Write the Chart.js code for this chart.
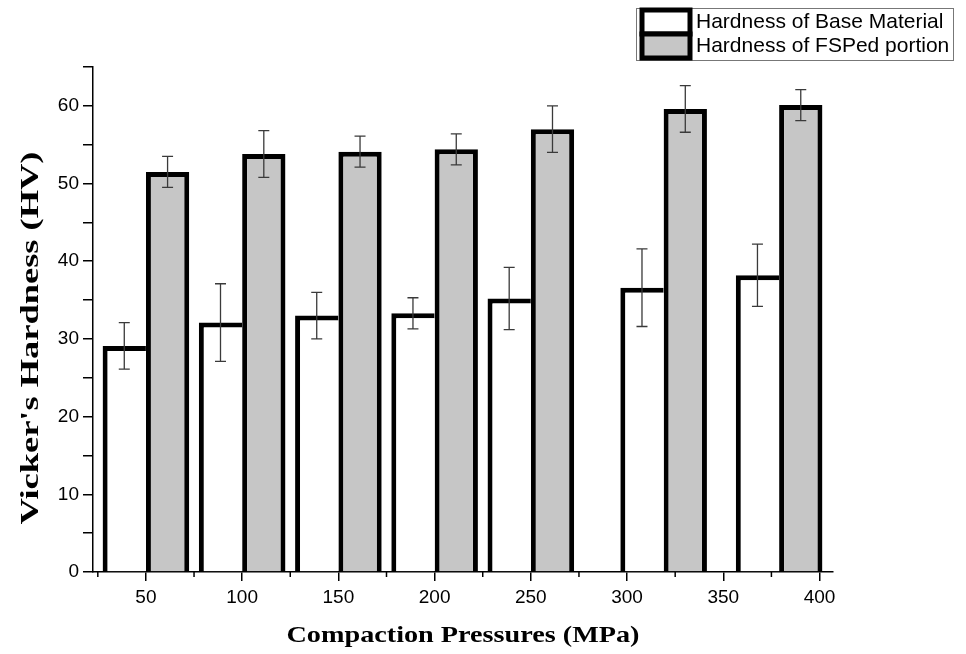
<!DOCTYPE html>
<html>
<head>
<meta charset="utf-8">
<script src="https://cdn.jsdelivr.net/npm/chart.js@4.4.1/dist/chart.umd.min.js"></script>
<style>
  html, body { margin: 0; padding: 0; background: #fff; }
</style>
</head>
<body>
<canvas id="chartCanvas" width="966" height="654"></canvas>
<script>
// data
const pressures = [50, 100, 150, 200, 250, 319, 379];
const baseHardness = [29.1, 32.1, 33.0, 33.3, 35.2, 36.6, 38.2];
const baseError = [3, 5, 3, 2, 4, 5, 4];
const fspHardness = [51.5, 53.8, 54.1, 54.4, 57.0, 59.6, 60.1];
const fspError = [2, 3, 2, 2, 3, 3, 2];
const xTicks = [50, 100, 150, 200, 250, 300, 350, 400];
const xMinorTicks = [25, 75, 125, 175, 225, 275, 325, 375];
const yTicks = [0, 5, 10, 15, 20, 25, 30, 35, 40, 45, 50, 55, 60, 65];
const seriesLabels = ["Hardness of Base Material", "Hardness of FSPed portion"];

const tickFont = { family: "'Liberation Sans', Arial, sans-serif", size: 19 };

// error bars drawn from the y scale
const errorBars = {
  id: "errorBars",
  afterDatasetsDraw(chart) {
    const ctx = chart.ctx;
    const y = chart.scales.y;
    ctx.save();
    ctx.strokeStyle = "#3a3a3a";
    ctx.lineWidth = 1.3;
    chart.data.datasets.forEach((ds, i) => {
      chart.getDatasetMeta(i).data.forEach((bar, j) => {
        const v = ds.data[j].y, e = ds.errors[j];
        const top = y.getPixelForValue(v + e);
        const bot = y.getPixelForValue(v - e);
        ctx.beginPath();
        ctx.moveTo(bar.x, top); ctx.lineTo(bar.x, bot);
        ctx.moveTo(bar.x - 5.5, top); ctx.lineTo(bar.x + 5.5, top);
        ctx.moveTo(bar.x - 5.5, bot); ctx.lineTo(bar.x + 5.5, bot);
        ctx.stroke();
      });
    });
    ctx.restore();
  }
};

// stretched text helper (the original titles are wide)
function wideText(ctx, text, x, y, font, targetWidth, rot) {
  ctx.save();
  ctx.font = font;
  const w = ctx.measureText(text).width;
  ctx.translate(x, y);
  if (rot) ctx.rotate(rot);
  ctx.scale(targetWidth / w, 1);
  ctx.textAlign = "center";
  ctx.textBaseline = "middle";
  ctx.fillStyle = "#000";
  ctx.fillText(text, 0, 0);
  ctx.restore();
}

// minor ticks, axis titles and the boxed legend
const decor = {
  id: "decor",
  afterDraw(chart) {
    const ctx = chart.ctx;
    const x = chart.scales.x;
    const area = chart.chartArea;
    ctx.save();
    ctx.strokeStyle = "#000";
    ctx.lineWidth = 1.5;
    xMinorTicks.forEach(v => {
      const px = x.getPixelForValue(v);
      ctx.beginPath();
      ctx.moveTo(px, area.bottom);
      ctx.lineTo(px, area.bottom + 5);
      ctx.stroke();
    });
    ctx.restore();

    wideText(ctx, "Compaction Pressures (MPa)", 463, 636,
      "bold 23px 'Liberation Serif', 'Times New Roman', serif", 353, 0);
    wideText(ctx, "Vicker's Hardness (HV)", 31, 338,
      "bold 26px 'Liberation Serif', 'Times New Roman', serif", 373, -Math.PI / 2);

    // legend
    ctx.save();
    ctx.strokeStyle = "#777";
    ctx.lineWidth = 1;
    ctx.strokeRect(636.5, 8.5, 317, 52);
    const rows = [10, 34];
    chart.data.datasets.forEach((ds, i) => {
      ctx.fillStyle = ds.backgroundColor;
      ctx.fillRect(642, rows[i], 48, 24);
      ctx.strokeStyle = "#000";
      ctx.lineWidth = 5;
      ctx.strokeRect(642, rows[i], 48, 24);
      ctx.fillStyle = "#000";
      ctx.font = "21px 'Liberation Sans', Arial, sans-serif";
      ctx.textBaseline = "middle";
      ctx.fillText(ds.label, 696, rows[i] + 12);
    });
    ctx.restore();
  }
};

const ctx = document.getElementById("chartCanvas").getContext("2d");

new Chart(ctx, {
  type: "bar",
  data: {
    datasets: [
      {
        label: seriesLabels[0],
        data: pressures.map((p, i) => ({ x: p, y: baseHardness[i] })),
        errors: baseError,
        backgroundColor: "#ffffff",
        borderColor: "#000000",
        borderWidth: { left: 5, top: 5, right: 0, bottom: 0 },
        categoryPercentage: 0.9,
        barPercentage: 1.0
      },
      {
        label: seriesLabels[1],
        data: pressures.map((p, i) => ({ x: p, y: fspHardness[i] })),
        errors: fspError,
        backgroundColor: "#c6c6c6",
        borderColor: "#000000",
        borderWidth: { left: 5, top: 5, right: 5, bottom: 0 },
        categoryPercentage: 0.9,
        barPercentage: 1.0
      }
    ]
  },
  options: {
    responsive: false,
    animation: false,
    devicePixelRatio: 1,
    layout: { padding: { top: 67, right: 133, bottom: 0, left: 0 } },
    plugins: {
      legend: { display: false },
      tooltip: { enabled: false }
    },
    scales: {
      x: {
        type: "linear",
        min: 22.5,
        max: 407,
        offset: false,
        grid: { offset: false, drawOnChartArea: false, drawTicks: true, tickLength: 9, color: "#000", lineWidth: 1.5 },
        border: { color: "#000", width: 1.5 },
        ticks: { font: tickFont, color: "#000", padding: 5, maxRotation: 0 },
        afterBuildTicks: s => { s.ticks = xTicks.map(v => ({ value: v })); },
        afterFit: s => { s.height = 82; }
      },
      y: {
        min: 0,
        max: 65,
        grid: { drawOnChartArea: false, drawTicks: true, tickLength: 10, color: "#000", lineWidth: 1.5 },
        border: { color: "#000", width: 1.5 },
        ticks: {
          font: tickFont,
          color: "#000",
          padding: 4,
          callback: v => (v % 10 === 0 && v <= 60 ? v : "")
        },
        afterBuildTicks: s => { s.ticks = yTicks.map(v => ({ value: v })); },
        afterFit: s => { s.width = 93; }
      }
    }
  },
  plugins: [errorBars, decor]
});
</script>
</body>
</html>
